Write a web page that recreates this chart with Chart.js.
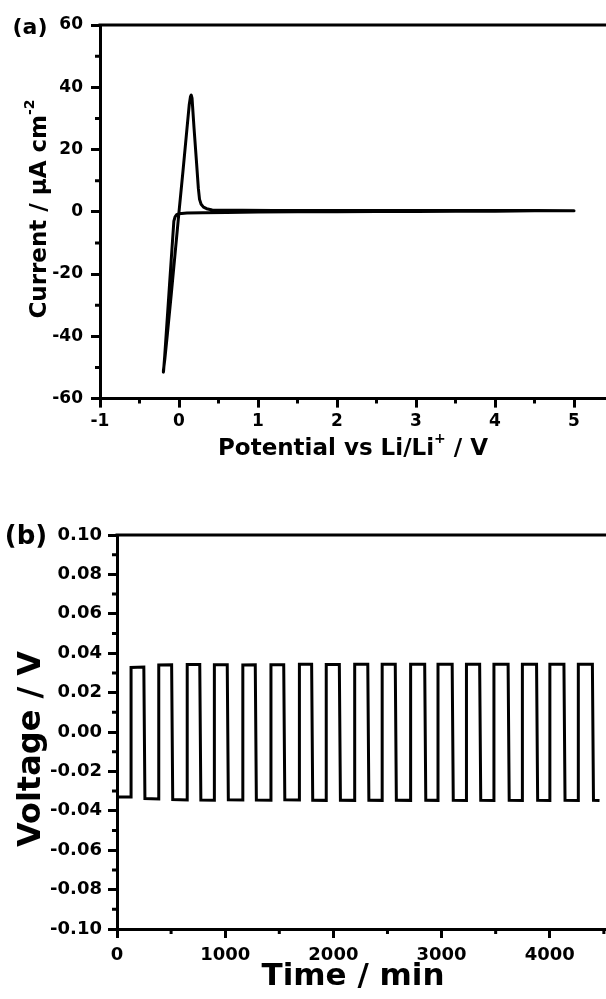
<!DOCTYPE html>
<html>
<head>
<meta charset="utf-8">
<script src="https://cdn.jsdelivr.net/npm/chart.js@4.4.1/dist/chart.umd.min.js"></script>
<style>
  html, body { margin: 0; padding: 0; background: #fff; overflow: hidden; }
  #wrap { position: relative; width: 606px; height: 999px; overflow: hidden; background: #fff; }
  .panel { position: absolute; left: 0; }
</style>
</head>
<body>
<div id="wrap">
  <div class="panel" style="top:0"><canvas id="ca" width="670" height="480"></canvas></div>
  <div class="panel" style="top:480px"><canvas id="cb" width="690" height="519"></canvas></div>
</div>
<script>
// ---------- Panel (a): cyclic voltammogram ----------
const cvPotential = [5.00, 4.50, 4.00, 3.50, 3.00, 2.50, 2.00, 1.50, 1.00, 0.60, 0.30, 0.10, 0.00, -0.03, -0.05, -0.065,
  -0.08, -0.10, -0.12, -0.14, -0.16, -0.18, -0.195, -0.200, -0.195, -0.18, -0.15, -0.10, -0.05, 0.00, 0.05, 0.10,
  0.13, 0.145, 0.155, 0.165, 0.19, 0.22, 0.245, 0.26, 0.28, 0.31, 0.35, 0.42, 0.55, 0.80, 1.20, 1.60, 2.00, 2.50,
  3.00, 3.50, 4.00, 4.50, 5.00];
const cvCurrent = [0.3, 0.3, 0.2, 0.2, 0.1, 0.1, 0.0, 0.0, -0.1, -0.2, -0.3, -0.4, -0.6, -0.9, -1.6, -3.0,
  -8.5, -16.0, -23.5, -31.0, -38.5, -46.0, -51.0, -51.5, -51.0, -47.5, -40.0, -27.0, -13.5, 0.0, 13.0, 26.5,
  34.5, 37.0, 37.5, 36.5, 27.0, 16.5, 7.5, 4.0, 2.4, 1.5, 1.0, 0.6, 0.5, 0.5, 0.4, 0.4, 0.4, 0.4,
  0.4, 0.4, 0.4, 0.4, 0.3];
const cvTicksX = [-1, 0, 1, 2, 3, 4, 5];
const cvMinorX = [-0.5, 0.5, 1.5, 2.5, 3.5, 4.5, 5.5];
const cvTicksY = [-60, -40, -20, 0, 20, 40, 60];
const cvMinorY = [-50, -30, -10, 10, 30, 50];

// ---------- Panel (b): galvanostatic cycling ----------
const gcdTime = [0, 130, 130, 248, 258, 386, 386, 505, 515, 649, 649, 765, 775, 900, 900, 1019, 1029,
  1163, 1163, 1278, 1288, 1423, 1423, 1541, 1551, 1686, 1686, 1799, 1809, 1934, 1934, 2055, 2065,
  2197, 2197, 2318, 2328, 2451, 2451, 2572, 2582, 2714, 2714, 2844, 2854, 2967, 2967, 3098, 3108,
  3230, 3230, 3352, 3362, 3484, 3484, 3615, 3625, 3747, 3747, 3878, 3888, 4001, 4001, 4131, 4141,
  4264, 4264, 4394, 4404, 4460];
const gcdVoltage = [-0.0330, -0.0330, 0.0328, 0.0330, -0.0338, -0.0340, 0.0340, 0.0341, -0.0343, -0.0345, 0.0343, 0.0343, -0.0345, -0.0346, 0.0341, 0.0341, -0.0344,
  -0.0345, 0.0340, 0.0341, -0.0345, -0.0346, 0.0342, 0.0342, -0.0344, -0.0345, 0.0344, 0.0344, -0.0346, -0.0347, 0.0343, 0.0343, -0.0346,
  -0.0347, 0.0344, 0.0344, -0.0346, -0.0347, 0.0344, 0.0344, -0.0346, -0.0347, 0.0344, 0.0344, -0.0346, -0.0347, 0.0344, 0.0344, -0.0347,
  -0.0348, 0.0344, 0.0344, -0.0347, -0.0348, 0.0344, 0.0344, -0.0347, -0.0348, 0.0344, 0.0344, -0.0347, -0.0348, 0.0344, 0.0344, -0.0347,
  -0.0348, 0.0344, 0.0344, -0.0347, -0.0348];
const gcdTicksX = [0, 1000, 2000, 3000, 4000, 5000];
const gcdMinorX = [500, 1500, 2500, 3500, 4500];
const gcdTicksY = [-0.10, -0.08, -0.06, -0.04, -0.02, 0.00, 0.02, 0.04, 0.06, 0.08, 0.10];
const gcdMinorY = [-0.09, -0.07, -0.05, -0.03, -0.01, 0.01, 0.03, 0.05, 0.07, 0.09];

const FAMILY = '"DejaVu Sans", "Liberation Sans", Arial, sans-serif';

// frame + minor ticks
const framePlugin = {
  id: 'frame',
  afterDraw(chart, args, opts) {
    const { ctx, chartArea: a } = chart;
    const xs = chart.scales.x, ys = chart.scales.y;
    ctx.save();
    ctx.strokeStyle = '#000';
    ctx.lineWidth = 3;
    ctx.lineCap = 'butt';
    ctx.beginPath();
    ctx.moveTo(a.left - 1.5, a.top);
    ctx.lineTo(a.right + 1.5, a.top);
    ctx.moveTo(a.right, a.top);
    ctx.lineTo(a.right, a.bottom);
    ctx.stroke();
    ctx.beginPath();
    (opts.xMinor || []).forEach(v => {
      const px = xs.getPixelForValue(v);
      ctx.moveTo(px, a.bottom);
      ctx.lineTo(px, a.bottom + 5);
    });
    (opts.yMinor || []).forEach(v => {
      const py = ys.getPixelForValue(v);
      ctx.moveTo(a.left, py);
      ctx.lineTo(a.left - 5, py);
    });
    ctx.stroke();
    ctx.restore();
  }
};

function drawParts(ctx, parts, size) {
  let total = 0;
  parts.forEach(p => {
    ctx.font = 'bold ' + (p.sup ? Math.round(size * 0.6) : size) + 'px ' + FAMILY;
    p.w = ctx.measureText(p.t).width;
    total += p.w;
  });
  let x = -total / 2;
  parts.forEach(p => {
    ctx.font = 'bold ' + (p.sup ? Math.round(size * 0.6) : size) + 'px ' + FAMILY;
    ctx.fillText(p.t, x, p.sup ? -size * 0.42 : 0);
    x += p.w;
  });
}

const titlePlugin = {
  id: 'titles',
  afterDraw(chart, args, opts) {
    const ctx = chart.ctx;
    ctx.save();
    ctx.fillStyle = '#000';
    ctx.textBaseline = 'middle';
    ctx.textAlign = 'left';
    (opts.items || []).forEach(it => {
      ctx.save();
      ctx.translate(it.x, it.y);
      if (it.rotate) ctx.rotate(-Math.PI / 2);
      drawParts(ctx, it.parts.map(p => Object.assign({}, p)), it.size);
      ctx.restore();
    });
    ctx.restore();
  }
};

function axisOpts(min, max, ticks, fontSize, pad, fmt) {
  return {
    type: 'linear', min: min, max: max,
    afterBuildTicks: s => { s.ticks = ticks.map(v => ({ value: v })); },
    ticks: {
      color: '#000', padding: pad, autoSkip: false, maxRotation: 0, minRotation: 0,
      font: { family: FAMILY, weight: 'bold', size: fontSize },
      callback: fmt
    },
    grid: { drawOnChartArea: false, drawTicks: true, tickLength: 9, tickWidth: 3, tickColor: '#000' },
    border: { display: true, color: '#000', width: 3 }
  };
}

function fitArea(chart, target) {
  for (let k = 0; k < 4; k++) {
    const a = chart.chartArea, p = chart.options.layout.padding;
    const dl = target.left - a.left, dt = target.top - a.top;
    const dr = a.right - target.right, db = a.bottom - target.bottom;
    if (Math.abs(dl) + Math.abs(dt) + Math.abs(dr) + Math.abs(db) < 0.3) break;
    p.left += dl; p.top += dt; p.right += dr; p.bottom += db;
    chart.update('none');
  }
}

const chartA = new Chart(document.getElementById('ca'), {
  type: 'scatter',
  data: {
    datasets: [{
      data: cvPotential.map((v, i) => ({ x: v, y: cvCurrent[i] })),
      showLine: true, borderColor: '#000', borderWidth: 3, pointRadius: 0,
      tension: 0, fill: false, borderJoinStyle: 'round', borderCapStyle: 'round'
    }]
  },
  options: {
    responsive: false, animation: false, events: [],
    layout: { padding: { left: 0, top: 20, right: 10, bottom: 40 } },
    plugins: {
      legend: { display: false }, tooltip: { enabled: false },
      frame: { xMinor: cvMinorX, yMinor: cvMinorY },
      titles: {
        items: [
          { x: 353, y: 449, size: 23, parts: [{ t: 'Potential vs Li/Li' }, { t: '+', sup: true }, { t: ' / V' }] },
          { x: 40, y: 209, size: 23, rotate: true, parts: [{ t: 'Current / \u03bcA cm' }, { t: '-2', sup: true }] },
          { x: 30, y: 28, size: 22, parts: [{ t: '(a)' }] }
        ]
      }
    },
    scales: {
      x: axisOpts(-1, 6, cvTicksX, 17, 4, v => String(v)),
      y: axisOpts(-60, 60, cvTicksY, 17, 8, v => String(v))
    }
  },
  plugins: [framePlugin, titlePlugin]
});
fitArea(chartA, { left: 100, top: 25, right: 653, bottom: 398.6 });

const chartB = new Chart(document.getElementById('cb'), {
  type: 'scatter',
  data: {
    datasets: [{
      data: gcdTime.map((t, i) => ({ x: t, y: gcdVoltage[i] })),
      showLine: true, borderColor: '#000', borderWidth: 3, pointRadius: 0,
      tension: 0, fill: false, borderJoinStyle: 'miter', borderCapStyle: 'butt'
    }]
  },
  options: {
    responsive: false, animation: false, events: [],
    layout: { padding: { left: 0, top: 50, right: 10, bottom: 40 } },
    plugins: {
      legend: { display: false }, tooltip: { enabled: false },
      frame: { xMinor: gcdMinorX, yMinor: gcdMinorY },
      titles: {
        items: [
          { x: 353, y: 497, size: 31, parts: [{ t: 'Time / min' }] },
          { x: 32, y: 269, size: 32, rotate: true, parts: [{ t: 'Voltage / V' }] },
          { x: 26, y: 57, size: 26, parts: [{ t: '(b)' }] }
        ]
      }
    },
    scales: {
      x: axisOpts(0, 5000, gcdTicksX, 18, 7, v => String(v)),
      y: axisOpts(-0.10, 0.10, gcdTicksY, 18, 6, v => (Math.abs(v) < 1e-9 ? '0.00' : v.toFixed(2)))
    }
  },
  plugins: [framePlugin, titlePlugin]
});
fitArea(chartB, { left: 117, top: 55, right: 668.5, bottom: 449 });
</script>
</body>
</html>
